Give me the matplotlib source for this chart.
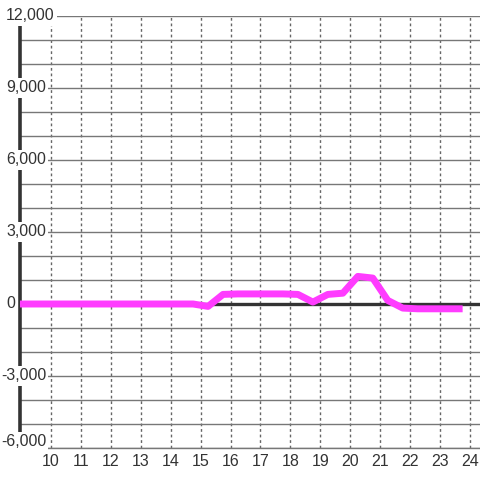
import matplotlib
matplotlib.use("Agg")
import matplotlib.pyplot as plt
import matplotlib.transforms as mtransforms

plt.rcParams['font.family'] = ['Liberation Sans', 'DejaVu Sans']

# data (hour of day, value)
hours = [8.75, 9.25, 9.75, 10.25, 10.75, 11.25, 11.75, 12.25, 12.75, 13.25,
         13.75, 14.25, 14.75, 15.25, 15.75, 16.25, 16.75, 17.25, 17.75, 18.25,
         18.75, 19.25, 19.75, 20.25, 20.75, 21.25, 21.75, 22.25, 22.75, 23.25,
         23.75]
values = [0, 0, 0, 0, 0, 0, 0, 0, 0, 0,
          0, 0, 0, -100, 400, 420, 420, 420, 420, 400,
          80, 400, 450, 1150, 1080, 150, -170, -200, -200, -200,
          -200]

x_ticks = list(range(10, 25))
y_ticks = [-6000, -3000, 0, 3000, 6000, 9000, 12000]
y_tick_labels = ["-6,000", "-3,000", "0", "3,000", "6,000", "9,000", "12,000"]

fig = plt.figure(figsize=(4.8, 4.8), dpi=100)
ax = fig.add_axes([20 / 480, 32 / 480, 460 / 480, 432 / 480])

ax.set_xlim(8.97, 24.33)
ax.set_ylim(-6000, 12000)

# grid
ax.set_yticks(range(-6000, 12001, 1000))
ax.set_xticks(x_ticks)
ax.yaxis.grid(True, color="#777777", linewidth=1, linestyle="-")
ax.xaxis.grid(True, color="#666666", linewidth=1, linestyle=(0, (2, 2)))
ax.set_axisbelow(True)
ax.tick_params(axis="y", length=0, labelleft=False)
ax.tick_params(axis="x", length=0, pad=4, labelsize=11.5, labelcolor="#333333")

for s in ["top", "right"]:
    ax.spines[s].set_visible(False)
ax.spines["bottom"].set_color("#777777")
ax.spines["bottom"].set_linewidth(1)
ax.spines["left"].set_color("#333333")
ax.spines["left"].set_linewidth(2.6)

# zero line
ax.axhline(0, color="#333333", linewidth=2.4, zorder=2)

ax.plot(hours, values, color="#ff3cff", linewidth=5, solid_capstyle="butt",
        solid_joinstyle="round", zorder=3)

# y labels sitting over the axis with white background
trans = mtransforms.blended_transform_factory(
    mtransforms.IdentityTransform(), ax.transData)
for v, lab in zip(y_ticks, y_tick_labels):
    x0 = 1 if lab.startswith("-") else 6
    dy = 6 if v == y_ticks[0] else 0
    ax.text(x0, v, lab, transform=trans + mtransforms.Affine2D().translate(0, dy),
            ha="left", va="center",
            fontsize=11.5, color="#333333", zorder=10, clip_on=False,
            bbox=dict(facecolor="white", edgecolor="none", pad=1.5))

fig.savefig("out.png", dpi=100)
